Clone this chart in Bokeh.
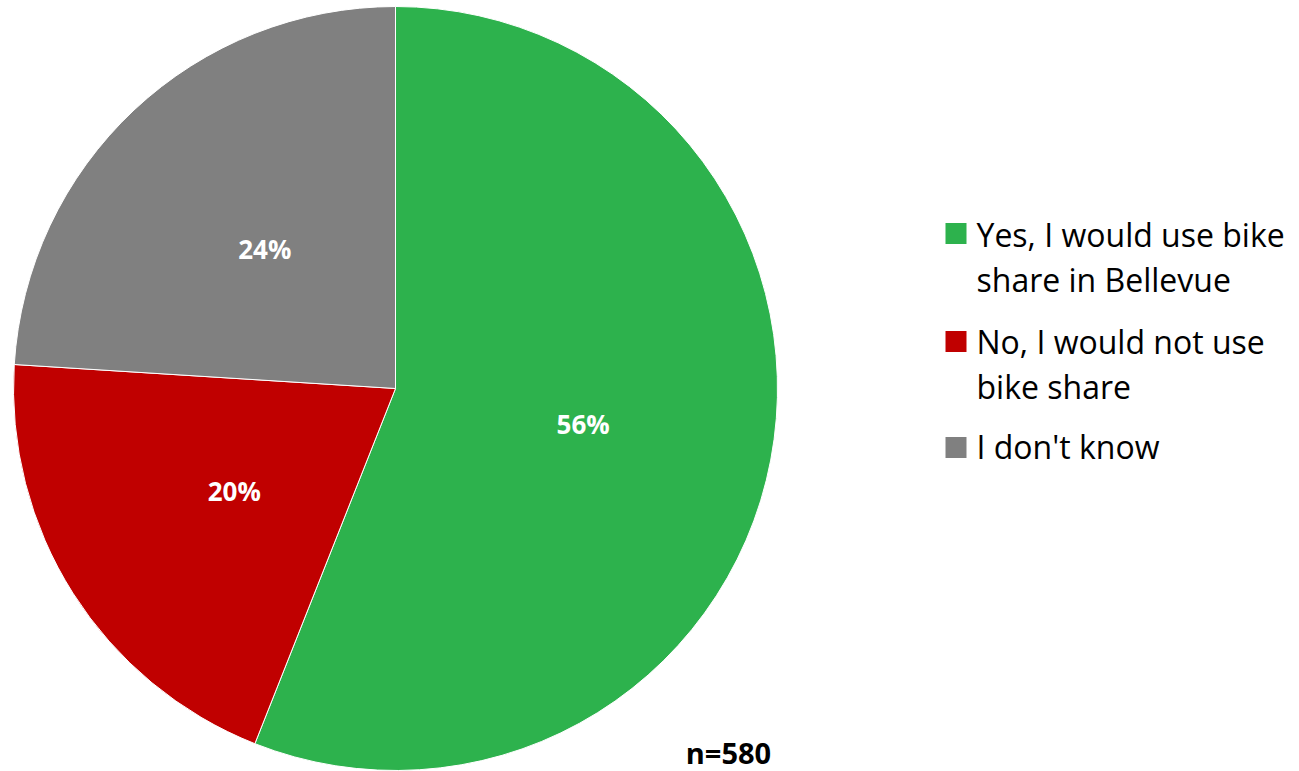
import math
from bokeh.plotting import figure
from bokeh.models import Range1d
from bokeh.core.properties import value
from bokeh.embed import file_html
from bokeh.resources import INLINE

categories = ["Yes, I would use bike share in Bellevue",
              "No, I would not use bike share",
              "I don't know"]
legend_lines = [["Yes, I would use bike", "share in Bellevue"],
                ["No, I would not use", "bike share"],
                ["I don't know"]]
values = [56, 20, 24]
colors = ["#2DB24D", "#C00000", "#808080"]
note = "n=580"

W, H = 1299, 771
FONT = "Open Sans"

p = figure(width=W, height=H, output_backend="svg", toolbar_location=None,
           x_range=Range1d(0, W), y_range=Range1d(0, H),
           match_aspect=False, min_border=0)
p.axis.visible = False
p.grid.visible = False
p.outline_line_color = None
p.background_fill_color = "white"
p.border_fill_color = "white"

def Y(s):
    return 771 - s

cx, cy, R = 395, Y(388), 382
total = sum(values)
start = math.pi / 2
starts, ends, mids = [], [], []
for v in values:
    span = 2 * math.pi * v / total
    starts.append(start)
    ends.append(start - span)
    mids.append(start - span / 2)
    start -= span

p.wedge(x=[cx] * 3, y=[cy] * 3, radius=R, start_angle=ends, end_angle=starts,
        fill_color=colors, line_color="white", line_width=1)

lx = [cx + 0.5 * R * math.cos(a) for a in mids]
ly = [cy + 0.5 * R * math.sin(a) for a in mids]
p.text(x=lx, y=ly, text=[f"{v}%" for v in values], text_color="white",
       text_font=value(FONT), text_font_style="bold", text_font_size="26px",
       text_align="center", text_baseline="middle")

p.text(x=[728], y=[Y(752)], text=[note], text_color="black",
       text_font=value(FONT), text_font_style="bold", text_font_size="29px",
       text_align="center", text_baseline="middle")

# legend
sq_y = [233, 341, 447]
base_y = [234, 341, 446]
line_gap = 45
p.rect(x=[955.5] * 3, y=[Y(s) for s in sq_y], width=21, height=21,
       fill_color=colors, line_color=None)
tx, ty, tt = [], [], []
for lines, b in zip(legend_lines, base_y):
    for j, t in enumerate(lines):
        tx.append(976)
        ty.append(Y(b + j * line_gap))
        tt.append(t)
p.text(x=tx, y=ty, text=tt, text_color="black", text_font=value(FONT),
       text_font_size="32px", text_align="left", text_baseline="alphabetic")

open("out.html", "w").write(file_html(p, INLINE))
